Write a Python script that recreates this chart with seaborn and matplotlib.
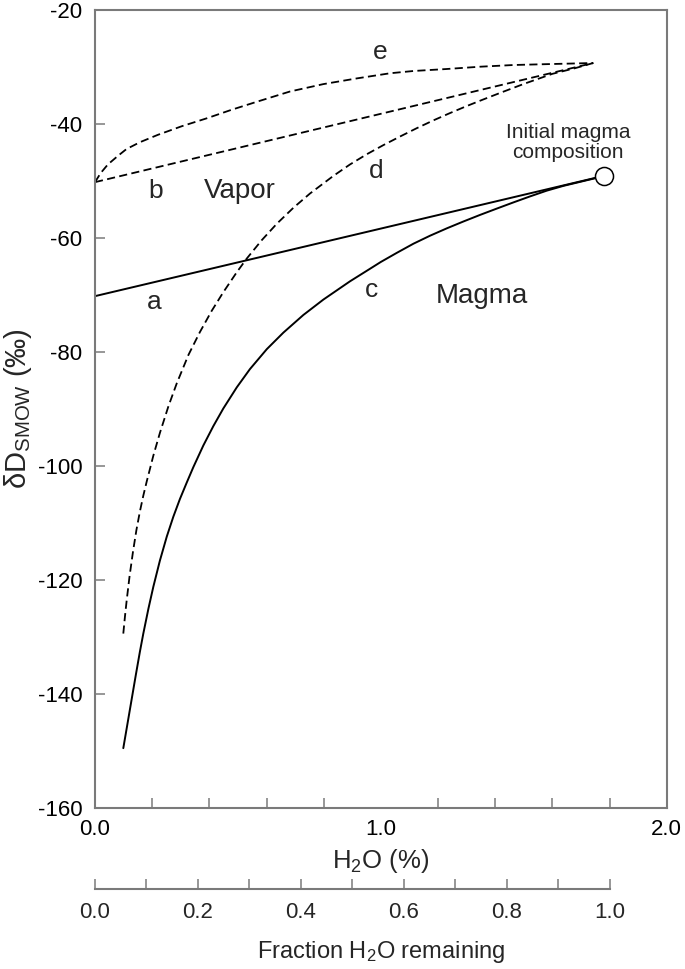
import matplotlib
matplotlib.use("Agg")
import matplotlib.pyplot as plt
import seaborn as sns
import numpy as np

sns.set_theme(style="white")
plt.rcParams['font.family'] = ['Liberation Sans', 'DejaVu Sans']
plt.rcParams['mathtext.fontset'] = 'custom'
plt.rcParams['mathtext.rm'] = 'Liberation Sans'
plt.rcParams['mathtext.it'] = 'Liberation Sans:italic'

# ---- data ----
# a: magma, batch degassing (straight line)
a_x = [0.0, 1.78]
a_y = [-70.2, -49.1]
# b: vapor, batch degassing
b_x = [0.0, 1.743]
b_y = [-50.2, -29.3]
# c: magma, Rayleigh degassing
c_x = [0.099, 0.113, 0.128, 0.143, 0.157, 0.169, 0.187, 0.204, 0.227, 0.251,
       0.274, 0.297, 0.321, 0.344, 0.379, 0.414, 0.449, 0.496, 0.542, 0.601,
       0.659, 0.729, 0.799, 0.892, 0.962, 1.0, 1.056, 1.114, 1.172, 1.231,
       1.289, 1.347, 1.405, 1.464, 1.522, 1.580, 1.639, 1.697, 1.755, 1.78]
c_y = [-149.5, -145.4, -141.0, -136.6, -132.6, -129.4, -125.0, -121.2, -116.6, -112.4,
       -108.9, -105.8, -102.9, -100.2, -96.4, -93.0, -89.9, -86.2, -83.0, -79.5,
       -76.6, -73.5, -70.8, -67.6, -65.4, -64.2, -62.6, -61.0, -59.6, -58.3,
       -57.1, -55.95, -54.85, -53.75, -52.7, -51.7, -50.85, -50.15, -49.45, -49.1]
# d: instantaneous vapor, Rayleigh degassing
d_x = [0.099, 0.105, 0.111, 0.121, 0.133, 0.145, 0.157, 0.169, 0.181, 0.204,
       0.227, 0.257, 0.286, 0.327, 0.367, 0.408, 0.449, 0.496, 0.531, 0.583,
       0.636, 0.694, 0.752, 0.834, 0.892, 0.951, 1.009, 1.067, 1.125, 1.184,
       1.242, 1.30, 1.358, 1.417, 1.50, 1.60, 1.68, 1.743]
d_y = [-129.4, -126.3, -123.5, -119.3, -115.0, -111.2, -108.0, -105.2, -102.7, -98.2,
       -94.2, -89.5, -85.5, -80.5, -76.5, -72.8, -69.5, -66.0, -63.6, -60.4,
       -57.5, -54.7, -52.2, -49.1, -47.1, -45.3, -43.7, -42.2, -40.75, -39.36,
       -38.08, -36.86, -35.7, -34.55, -32.97, -31.2, -30.2, -29.3]
# e: accumulated vapor, Rayleigh degassing
e_x = [0.0, 0.02, 0.045, 0.08, 0.110, 0.157, 0.22, 0.303, 0.391, 0.478,
       0.566, 0.682, 0.799, 0.916, 1.032, 1.114, 1.231, 1.347, 1.464, 1.58, 1.743]
e_y = [-50.2, -48.6, -47.1, -45.6, -44.4, -43.2, -41.9, -40.4, -39.0, -37.5,
       -36.1, -34.3, -33.0, -32.0, -31.1, -30.7, -30.35, -29.95, -29.65, -29.5, -29.3]
# initial magma composition
init_x = [1.78]
init_y = [-49.1]

x_ticks = [0.0, 1.0, 2.0]
y_ticks = [-160, -140, -120, -100, -80, -60, -40, -20]
frac_ticks = [0.0, 0.2, 0.4, 0.6, 0.8, 1.0]
frac_max_h2o = 1.8  # H2O (%) corresponding to fraction 1.0

labels = [("e", 0.997, -27.4), ("b", 0.213, -51.8), ("Vapor", 0.507, -51.8),
          ("d", 0.983, -48.2), ("a", 0.206, -71.2), ("c", 0.969, -69.1),
          ("Magma", 1.354, -70.2)]

# ---- figure ----
W, H = 685, 969
fig = plt.figure(figsize=(W / 100, H / 100), dpi=100)
L, R, T, B = 95, 666.7, 10, 808
ax = fig.add_axes([L / W, 1 - B / H, (R - L) / W, (B - T) / H])

lw = 1.4
dash = (0, (4.5, 2.4))
sns.lineplot(x=a_x, y=a_y, ax=ax, color='black', lw=lw, sort=False, estimator=None)
sns.lineplot(x=c_x, y=c_y, ax=ax, color='black', lw=lw, sort=False, estimator=None)
sns.lineplot(x=b_x, y=b_y, ax=ax, color='black', lw=1.3, sort=False, estimator=None, linestyle=dash)
sns.lineplot(x=d_x, y=d_y, ax=ax, color='black', lw=1.3, sort=False, estimator=None, linestyle=dash)
sns.lineplot(x=e_x, y=e_y, ax=ax, color='black', lw=1.3, sort=False, estimator=None, linestyle=dash)
ax.plot(init_x, init_y, 'o', ms=13, mfc='white', mec='black', mew=1.1, zorder=5)

ax.set_xlim(0, 2.0)
ax.set_ylim(-160, -20)
ax.set_xticks(x_ticks)
ax.set_xticklabels([f"{v:.1f}" for v in x_ticks])
ax.set_xticks(np.arange(0.2, 2.0, 0.2), minor=True)
ax.set_yticks(y_ticks)
ax.set_yticklabels([str(v) for v in y_ticks])

gray = '#7a7a7a'
for s in ax.spines.values():
    s.set_color(gray)
    s.set_linewidth(1.5)
ax.tick_params(axis='both', which='both', direction='in', color=gray, width=1.1,
               labelsize=16, labelcolor='black', bottom=True, left=True,
               top=False, right=False)
ax.tick_params(axis='x', which='major', length=0, pad=8)
ax.tick_params(axis='x', which='minor', length=7)
ax.tick_params(axis='y', which='major', length=7, pad=9)

ax.set_xlabel("H$_2$O (%)", fontsize=18.5, labelpad=5)
ax.set_ylabel("δD$_{\\mathrm{SMOW}}$ (‰)", fontsize=21, labelpad=3)

for txt, x, y in labels:
    ax.text(x, y, txt, fontsize=20 if len(txt) > 1 else 19, ha='center', va='center')
ax.text(1.655, -43.3, "Initial magma\ncomposition", fontsize=15, ha='center',
        va='center', linespacing=1.05)

# ---- secondary axis: fraction of H2O remaining ----
ya = 889
ax2 = fig.add_axes([L / W, 1 - ya / H, (R - L) / W, 0.0001])
ax2.set_xlim(0, 2.0 / frac_max_h2o)
ax2.set_ylim(0, 1)
for k in ['top', 'left', 'right']:
    ax2.spines[k].set_visible(False)
ax2.spines['bottom'].set_color(gray)
ax2.spines['bottom'].set_linewidth(1.5)
ax2.spines['bottom'].set_bounds(0, 1.0)
ax2.set_yticks([])
ax2.set_xticks(frac_ticks)
ax2.set_xticklabels([f"{v:.1f}" for v in frac_ticks])
ax2.set_xticks(np.arange(0.1, 1.0, 0.2), minor=True)
ax2.tick_params(axis='x', which='both', direction='in', length=7, color=gray, width=1.1,
                labelsize=16, pad=9, bottom=True, top=False)
ax2.patch.set_alpha(0)
ax2.set_xlabel("Fraction H$_2$O remaining", fontsize=17, labelpad=12)

fig.savefig("out.png", dpi=100)
